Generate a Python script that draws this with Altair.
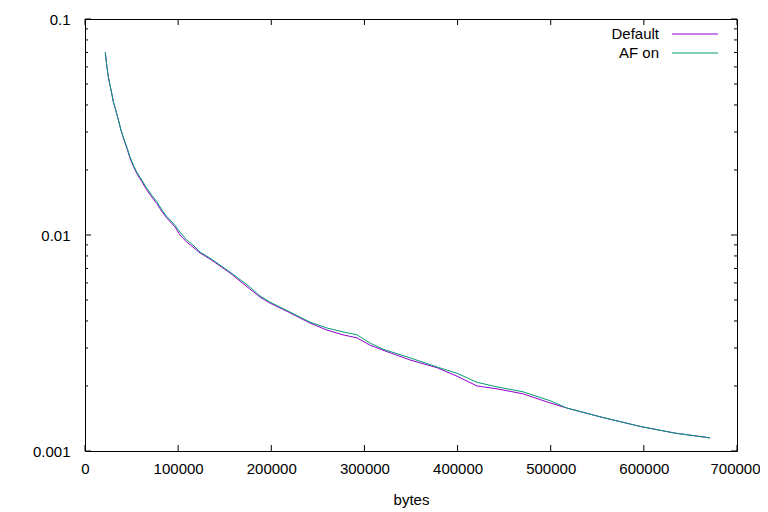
import altair as alt
import pandas as pd

# ---- data ----
bytes_x = [21800, 23300, 25000, 26800, 28700, 30400, 33000, 35800, 38600, 42200,
           45400, 48300, 51900, 55500, 60900, 66200, 71600, 77000, 82300, 87700,
           96600, 102000, 109200, 115900, 123500, 134200, 155700, 177100, 187900, 198600,
           220100, 241600, 259800, 277000, 292000, 306000, 319900, 348900, 377900, 399400,
           420900, 442300, 470200, 499200, 517500, 552900, 595800, 633400, 671000]

default_vals = [0.0701, 0.0612, 0.0541, 0.0495, 0.0453, 0.0414, 0.0379, 0.0341, 0.0306, 0.0273,
                0.0249, 0.0227, 0.0208, 0.0193, 0.0177, 0.0162, 0.0150, 0.0140, 0.0129, 0.0120,
                0.0109, 0.0100, 0.00928, 0.00880, 0.00826, 0.00774, 0.00667, 0.00562, 0.00516, 0.00484,
                0.00436, 0.00391, 0.00363, 0.00345, 0.00334, 0.00309, 0.00293, 0.00264, 0.00243, 0.00222,
                0.00200, 0.00194, 0.00184, 0.00167, 0.00158, 0.00144, 0.00130, 0.00121, 0.00115]

af_vals = [0.0701, 0.0612, 0.0541, 0.0495, 0.0453, 0.0414, 0.0379, 0.0341, 0.0306, 0.0275,
           0.0252, 0.0230, 0.0211, 0.0196, 0.0180, 0.0165, 0.0153, 0.0143, 0.0131, 0.0122,
           0.0111, 0.0103, 0.00948, 0.00899, 0.00834, 0.00782, 0.00674, 0.00574, 0.00522, 0.00489,
           0.00440, 0.00395, 0.00371, 0.00356, 0.00345, 0.00316, 0.00296, 0.00270, 0.00245, 0.00229,
           0.00208, 0.00198, 0.00188, 0.00171, 0.00158, 0.00144, 0.00130, 0.00121, 0.00115]

series_names = ["Default", "AF on"]
series_colors = ["#9400d3", "#009e73"]

x_ticks = [0, 100000, 200000, 300000, 400000, 500000, 600000, 700000]
y_major = [0.001, 0.01, 0.1]
y_minor = [0.002, 0.003, 0.004, 0.005, 0.006, 0.007, 0.008, 0.009,
           0.02, 0.03, 0.04, 0.05, 0.06, 0.07, 0.08, 0.09]

FONT = "Liberation Sans"
FS = 15
W, H = 652, 432

xscale = alt.Scale(domain=[0, 700000], nice=False, zero=False)
yscale = alt.Scale(type="log", domain=[0.001, 0.1], nice=False)

df_def = pd.DataFrame({"bytes": bytes_x, "value": default_vals})
df_af = pd.DataFrame({"bytes": bytes_x, "value": af_vals})

xaxis = alt.Axis(values=x_ticks, format="d", ticks=False, domain=False, grid=False,
                 labelPadding=10, labelFont=FONT, labelFontSize=FS, labelColor="black",
                 labelOffset=alt.expr("datum.value == 700000 ? -2 : 0"),
                 title="bytes", titleFont=FONT, titleFontSize=FS, titleFontWeight="normal",
                 titleColor="black", titlePadding=16, labelFlush=False, labelOverlap=False)
yaxis = alt.Axis(values=y_major, format=".3~f", ticks=False, domain=False, grid=False,
                 labelPadding=15, labelFont=FONT, labelFontSize=FS, labelColor="black",
                 title=None, labelFlush=False, labelOverlap=False)

line_def = alt.Chart(df_def).mark_line(color=series_colors[0], strokeWidth=1).encode(
    x=alt.X("bytes:Q", scale=xscale, axis=xaxis),
    y=alt.Y("value:Q", scale=yscale, axis=yaxis),
)
line_af = alt.Chart(df_af).mark_line(color=series_colors[1], strokeWidth=1).encode(
    x=alt.X("bytes:Q", scale=xscale),
    y=alt.Y("value:Q", scale=yscale),
)

xt = pd.DataFrame({"v": x_ticks})
ymaj = pd.DataFrame({"v": y_major})
ymin = pd.DataFrame({"v": y_minor})

tick_style = dict(color="black", strokeWidth=1)
xt_bottom = alt.Chart(xt).mark_rule(**tick_style).encode(
    x=alt.X("v:Q", scale=xscale), y=alt.value(H), y2=alt.value(H - 6))
xt_top = alt.Chart(xt).mark_rule(**tick_style).encode(
    x=alt.X("v:Q", scale=xscale), y=alt.value(0), y2=alt.value(6))
ymaj_left = alt.Chart(ymaj).mark_rule(**tick_style).encode(
    y=alt.Y("v:Q", scale=yscale), x=alt.value(0), x2=alt.value(6))
ymaj_right = alt.Chart(ymaj).mark_rule(**tick_style).encode(
    y=alt.Y("v:Q", scale=yscale), x=alt.value(W), x2=alt.value(W - 6))
ymin_left = alt.Chart(ymin).mark_rule(**tick_style).encode(
    y=alt.Y("v:Q", scale=yscale), x=alt.value(0), x2=alt.value(3))
ymin_right = alt.Chart(ymin).mark_rule(**tick_style).encode(
    y=alt.Y("v:Q", scale=yscale), x=alt.value(W), x2=alt.value(W - 3))

# gnuplot-style key (label left, sample right)
leg_layers = []
for i, (name, col) in enumerate(zip(series_names, series_colors)):
    ly = 15 + 19 * i
    ldf = pd.DataFrame({"label": [name]})
    leg_layers.append(alt.Chart(ldf).mark_text(align="right", baseline="middle", font=FONT,
                                               fontSize=FS, color="black").encode(
        text="label:N", x=alt.value(574), y=alt.value(ly)))
    leg_layers.append(alt.Chart(ldf).mark_rule(color=col, strokeWidth=1).encode(
        x=alt.value(587), x2=alt.value(633), y=alt.value(ly)))

chart = alt.layer(line_def, line_af, xt_bottom, xt_top, ymaj_left, ymaj_right,
                  ymin_left, ymin_right, *leg_layers).properties(
    width=W, height=H,
    autosize=alt.AutoSizeParams(type="none"),
    padding={"left": 77, "top": 11, "right": 23, "bottom": 58},
    background="white",
).configure_view(stroke="black", strokeWidth=1)

chart.save("out.html", embed_options={"renderer": "svg", "actions": False})
